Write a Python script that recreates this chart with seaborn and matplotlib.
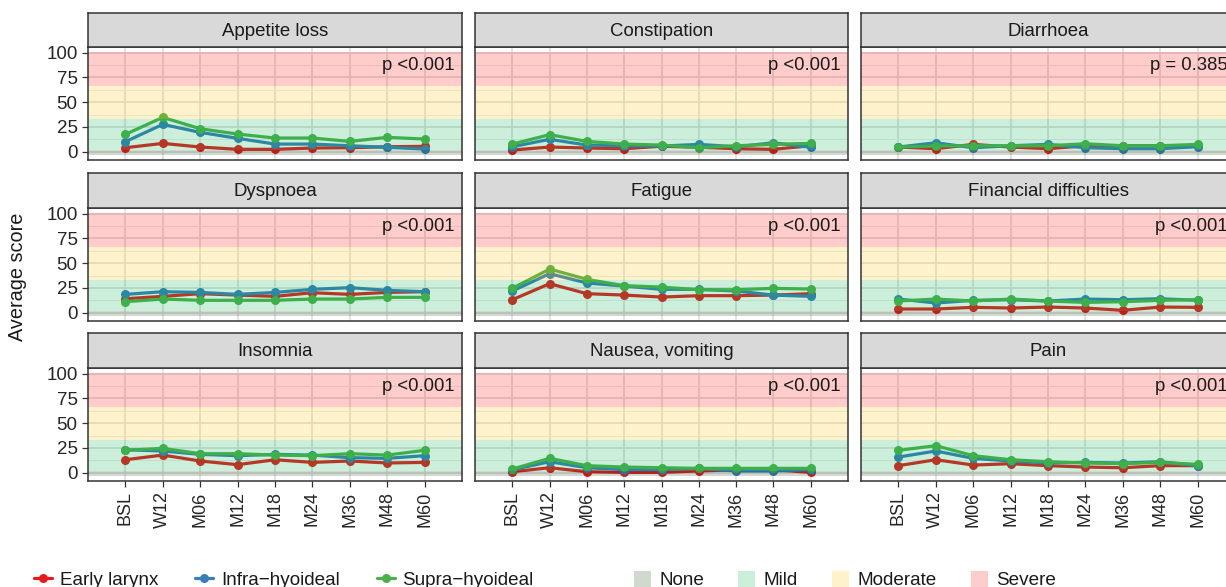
import numpy as np
import pandas as pd
import matplotlib
matplotlib.use("Agg")
import matplotlib.pyplot as plt
import matplotlib.transforms as mtransforms
from matplotlib.lines import Line2D
from matplotlib.patches import Patch
import seaborn as sns

# ---- data -------------------------------------------------------------
timepoints = ["BSL", "W12", "M06", "M12", "M18", "M24", "M36", "M48", "M60"]
groups = ["Early larynx", "Infra\u2212hyoideal", "Supra\u2212hyoideal"]
symptoms = ["Appetite loss", "Constipation", "Diarrhoea",
            "Dyspnoea", "Fatigue", "Financial difficulties",
            "Insomnia", "Nausea, vomiting", "Pain"]
p_labels = ["p <0.001", "p <0.001", "p = 0.385",
            "p <0.001", "p <0.001", "p <0.001",
            "p <0.001", "p <0.001", "p <0.001"]

early_larynx = {
    "Appetite loss":          [4.0, 8.4, 4.7, 2.4, 2.4, 3.7, 4.0, 5.0, 5.4],
    "Constipation":           [1.7, 4.7, 3.7, 3.0, 5.5, 4.5, 3.0, 2.4, 6.0],
    "Diarrhoea":              [4.7, 3.0, 7.4, 4.7, 3.0, 6.0, 6.0, 6.0, 6.0],
    "Dyspnoea":               [14.1, 16.5, 19.2, 17.8, 16.5, 20.2, 18.5, 20.5, 21.2],
    "Fatigue":                [13.1, 29.3, 19.2, 17.8, 15.8, 17.2, 17.2, 17.8, 19.2],
    "Financial difficulties": [3.7, 3.7, 5.4, 4.7, 5.7, 4.7, 2.4, 5.7, 5.4],
    "Insomnia":               [13.1, 17.8, 11.8, 8.1, 13.1, 10.4, 11.8, 9.8, 10.4],
    "Nausea, vomiting":       [1.0, 5.0, 1.0, 0.3, 0.3, 1.7, 3.0, 3.0, 0.3],
    "Pain":                   [7.1, 13.1, 7.7, 9.1, 7.1, 5.7, 5.0, 7.1, 7.1],
}
infra_hyoideal = {
    "Appetite loss":          [10.1, 27.6, 19.5, 13.5, 7.7, 7.7, 6.0, 4.4, 2.7],
    "Constipation":           [5.0, 12.5, 6.7, 6.0, 5.7, 7.4, 5.0, 9.0, 4.4],
    "Diarrhoea":              [4.7, 9.0, 4.0, 6.0, 7.4, 4.0, 3.0, 3.0, 5.0],
    "Dyspnoea":               [18.5, 21.2, 20.5, 18.5, 20.5, 23.6, 25.3, 22.6, 21.2],
    "Fatigue":                [21.9, 39.4, 30.0, 26.9, 23.6, 23.6, 21.9, 17.8, 16.5],
    "Financial difficulties": [13.8, 9.8, 12.5, 13.1, 11.8, 13.8, 13.1, 14.1, 12.5],
    "Insomnia":               [23.2, 21.9, 18.5, 17.2, 18.5, 17.8, 15.2, 14.5, 17.2],
    "Nausea, vomiting":       [3.0, 11.1, 5.0, 3.0, 3.0, 4.4, 1.7, 1.7, 3.0],
    "Pain":                   [15.8, 21.9, 14.5, 11.8, 9.8, 10.4, 9.8, 11.1, 7.1],
}
supra_hyoideal = {
    "Appetite loss":          [17.5, 34.7, 23.2, 17.8, 13.8, 13.8, 10.4, 14.5, 12.8],
    "Constipation":           [7.7, 17.2, 10.4, 7.7, 6.7, 4.0, 6.0, 7.4, 8.4],
    "Diarrhoea":              [4.7, 5.7, 6.0, 6.0, 6.0, 8.0, 6.0, 6.0, 7.4],
    "Dyspnoea":               [11.1, 13.8, 12.5, 12.5, 12.5, 13.8, 13.8, 15.5, 15.5],
    "Fatigue":                [24.6, 44.1, 33.7, 27.3, 25.9, 23.2, 23.2, 24.6, 23.9],
    "Financial difficulties": [11.8, 13.8, 11.8, 13.8, 11.8, 10.4, 11.1, 12.5, 13.1],
    "Insomnia":               [22.6, 24.6, 19.2, 19.2, 17.8, 17.2, 19.2, 17.8, 22.6],
    "Nausea, vomiting":       [3.7, 14.5, 7.1, 5.7, 5.0, 4.4, 4.4, 4.4, 4.4],
    "Pain":                   [22.6, 27.3, 17.2, 13.1, 11.1, 9.8, 9.1, 10.4, 8.4],
}

severity_names = ["None", "Mild", "Moderate", "Severe"]
severity_low = [-3.2, 2.0, 33.3, 66.7]
severity_high = [2.0, 33.3, 66.7, 100.6]
severity_colors = ["#143C14", "#00B050", "#F5C000", "#FF0000"]
group_colors = ["#E41A1C", "#377EB8", "#4DAF4A"]

rows = []
for grp, table in zip(groups, [early_larynx, infra_hyoideal, supra_hyoideal]):
    for sym in symptoms:
        for tp, v in zip(timepoints, table[sym]):
            rows.append({"symptom": sym, "group": grp, "time": tp, "score": v})
df = pd.DataFrame(rows)

# ---- figure -----------------------------------------------------------
sns.set_theme(style="white")
plt.rcParams["font.family"] = ["Liberation Sans", "DejaVu Sans"]

W, H = 1226, 587
fig = plt.figure(figsize=(W / 100, H / 100), dpi=100)
fig.patch.set_facecolor("white")

col_x = [(88, 462), (475, 848), (861, 1235)]
row_y = [(47, 160), (208, 321), (368, 481)]
strip_y = [(13, 47), (173, 208), (333, 368)]

def fbox(x0, x1, y0, y1):
    return [x0 / W, 1 - y1 / H, (x1 - x0) / W, (y1 - y0) / H]

border = "#333333"
text_col = "#1A1A1A"
palette = dict(zip(groups, group_colors))

for i, sym in enumerate(symptoms):
    r, c = divmod(i, 3)
    x0, x1 = col_x[c]
    y0, y1 = row_y[r]
    ax = fig.add_axes(fbox(x0, x1, y0, y1))
    sub = df[df["symptom"] == sym]
    sns.lineplot(data=sub, x="time", y="score", hue="group", hue_order=groups,
                 palette=palette, marker="o", markersize=6.5, markeredgewidth=0,
                 linewidth=2.3, ax=ax, legend=False, zorder=2, sort=False)
    # severity bands drawn as translucent overlays
    for lo, hi, col in zip(severity_low, severity_high, severity_colors):
        ax.axhspan(lo, hi, color=col, alpha=0.2, lw=0, zorder=3)

    ax.set_xlim(-1, len(timepoints))
    ax.set_ylim(-8.4, 105.8)
    ax.set_facecolor("white")
    ax.set_yticks([0, 25, 50, 75, 100])
    ax.set_yticks([12.5, 37.5, 62.5, 87.5], minor=True)
    ax.set_xticks(range(len(timepoints)))
    ax.grid(True, which="major", color="#E0E0E0", lw=1.3, zorder=0)
    ax.grid(True, which="minor", axis="y", color="#ECECEC", lw=0.7, zorder=0)
    ax.set_axisbelow(True)
    for s in ax.spines.values():
        s.set_color(border)
        s.set_linewidth(1.1)
        s.set_zorder(5)
    ax.set_xlabel("")
    ax.set_ylabel("")
    ax.tick_params(axis="both", which="major", length=4, width=0.9,
                   color=border, labelcolor="#262626", labelsize=13.5, pad=3.5)
    ax.tick_params(axis="both", which="minor", length=0)
    if c == 0:
        ax.set_yticklabels(["0", "25", "50", "75", "100"])
        ax.tick_params(axis="y", left=True)
    else:
        ax.tick_params(axis="y", left=False, labelleft=False)
    if r == 2:
        ax.set_xticklabels(timepoints, rotation=90)
        ax.tick_params(axis="x", bottom=True, labelbottom=True, labelsize=13)
    else:
        ax.tick_params(axis="x", bottom=False, labelbottom=False)

    trans = mtransforms.blended_transform_factory(ax.transAxes, ax.transData)
    ax.text(1 - 7 / (x1 - x0), 87.5, p_labels[i], transform=trans,
            fontsize=13.3, color=text_col, ha="right", va="center", zorder=6)

    # facet strip
    sy0, sy1 = strip_y[r]
    sax = fig.add_axes(fbox(x0, x1, sy0, sy1))
    sax.set_facecolor("#D9D9D9")
    sax.set_xticks([])
    sax.set_yticks([])
    for s in sax.spines.values():
        s.set_color(border)
        s.set_linewidth(1.1)
    sax.text(0.5, 0.47, sym, ha="center", va="center", fontsize=13.4,
             color=text_col, transform=sax.transAxes)

fig.text(18 / W, 1 - 277 / H, "Average score", rotation=90, ha="center",
         va="center", fontsize=14.3, color=text_col)

# legends along the bottom
line_handles = [Line2D([0], [0], color=col, lw=2.3, marker="o", markersize=6.5,
                       markeredgewidth=0) for col in group_colors]
leg1 = fig.legend(line_handles, groups, loc="center left",
                  bbox_to_anchor=(34 / W, 1 - 580 / H), ncol=3, frameon=False,
                  fontsize=13.6, handlelength=0.95, handletextpad=0.42,
                  columnspacing=1.95, borderpad=0, borderaxespad=0)
patch_handles = [Patch(facecolor=col, alpha=0.2, edgecolor="none")
                 for col in severity_colors]
leg2 = fig.legend(patch_handles, severity_names, loc="center left",
                  bbox_to_anchor=(634 / W, 1 - 580 / H), ncol=4, frameon=False,
                  fontsize=13.6, handlelength=0.9, handleheight=0.9,
                  handletextpad=0.45, columnspacing=1.8, borderpad=0,
                  borderaxespad=0)
for leg in (leg1, leg2):
    for t in leg.get_texts():
        t.set_color(text_col)

fig.savefig("out.png", dpi=100, facecolor="white")
